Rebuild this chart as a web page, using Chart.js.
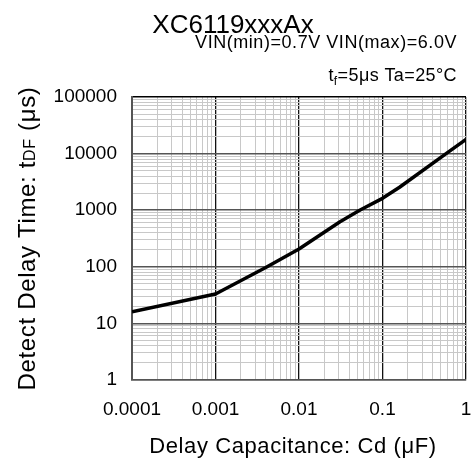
<!DOCTYPE html>
<html>
<head>
<meta charset="utf-8">
<script src="https://cdn.jsdelivr.net/npm/chart.js@4.4.0/dist/chart.umd.min.js"></script>
<style>
  html, body { margin: 0; padding: 0; background: #fff; }
  #wrap { width: 471px; height: 461px; }
</style>
</head>
<body>
<div id="wrap"><canvas id="c" width="471" height="461"></canvas></div>
<script>
// ---- data ----
const capacitance = [0.0001, 0.001, 0.004, 0.01, 0.031, 0.054, 0.1, 0.16, 0.6, 1];
const delayTime   = [16, 33, 97, 206, 627, 1009, 1620, 2540, 10400, 17800];
const xTickLabels = ['0.0001', '0.001', '0.01', '0.1', '1'];
const yTickLabels = ['1', '10', '100', '1000', '10000', '100000'];

const chartTitle = 'XC6119xxxAx';
const condLine1 = 'VIN(min)=0.7V VIN(max)=6.0V';
const condLine2 = [['t', 0], ['f', 1], ['=5μs Ta=25°C', 0]];
const yTitle = [['Detect Delay Time: t', 0], ['DF', 2], [' (μs)', 0]];
const xTitle = 'Delay Capacitance: Cd (μF)';

const FONT = '"Liberation Sans", Arial, sans-serif';

function isDecade(v) {
  const l = Math.log10(v);
  return Math.abs(l - Math.round(l)) < 1e-6;
}
function buildLogTicks(labels) {
  const decades = labels.map(Number);
  const ticks = [];
  for (let i = 0; i < decades.length - 1; i++) {
    for (let m = 1; m <= 9; m++) ticks.push({ value: m * decades[i] });
  }
  ticks.push({ value: decades[decades.length - 1] });
  return ticks;
}
function labelFor(labels, v) {
  const s = labels.find(t => Math.abs(Number(t) - v) < v * 1e-6);
  return s === undefined ? '' : s;
}

// draws a run of segments: [text, mode] ; mode 0 normal, 1 subscript, 2 small at baseline
function drawRun(ctx, segs, size, x, y, align, spacing) {
  const fontFor = m => (m === 0 ? size : Math.round(size * 0.68)) + 'px ' + FONT;
  ctx.letterSpacing = (spacing || 0) + 'px';
  let total = 0;
  segs.forEach(([t, m]) => { ctx.font = fontFor(m); total += ctx.measureText(t).width; });
  let cx = align === 'right' ? x - total : (align === 'center' ? x - total / 2 : x);
  segs.forEach(([t, m]) => {
    ctx.font = fontFor(m);
    const dy = m === 1 ? size * 0.2 : 0;
    ctx.fillText(t, cx, y + dy);
    cx += ctx.measureText(t).width;
  });
  ctx.letterSpacing = '0px';
}

const textPlugin = {
  id: 'texts',
  beforeDraw(chart) {
    const ctx = chart.ctx;
    ctx.save();
    ctx.fillStyle = '#fff';
    ctx.fillRect(0, 0, chart.width, chart.height);
    ctx.restore();
  },
  afterDraw(chart) {
    const ctx = chart.ctx;
    const a = chart.chartArea;
    ctx.save();
    ctx.fillStyle = '#000';
    ctx.textBaseline = 'alphabetic';
    // title
    drawRun(ctx, [[chartTitle, 0]], 26, 233, 33, 'center', 0);
    // condition lines
    drawRun(ctx, [[condLine1, 0]], 18, 457, 48, 'right', 0.55);
    drawRun(ctx, condLine2, 18, 457, 81, 'right', 0.4);
    // x axis title
    drawRun(ctx, [[xTitle, 0]], 22, 293, 453, 'center', 0.6);
    // y axis title
    ctx.translate(35, (a.top + a.bottom) / 2);
    ctx.rotate(-Math.PI / 2);
    drawRun(ctx, yTitle, 24, 0, 0, 'center', 0.65);
    ctx.restore();
  }
};

new Chart(document.getElementById('c'), {
  type: 'line',
  data: {
    datasets: [{
      data: capacitance.map((c, i) => ({ x: c, y: delayTime[i] })),
      borderColor: '#000',
      borderWidth: 3.5,
      borderJoinStyle: 'round',
      pointRadius: 0,
      tension: 0,
      fill: false
    }]
  },
  options: {
    responsive: false,
    animation: false,
    devicePixelRatio: 1,
    layout: { padding: { top: 97, right: 5, left: 0, bottom: 0 } },
    plugins: { legend: { display: false }, tooltip: { enabled: false }, title: { display: false } },
    scales: {
      x: {
        type: 'logarithmic',
        min: Number(xTickLabels[0]),
        max: Number(xTickLabels[xTickLabels.length - 1]),
        afterBuildTicks: s => { s.ticks = buildLogTicks(xTickLabels); },
        afterFit: s => { s.height = 81; s.paddingLeft = 0; s.paddingRight = 0; },
        ticks: {
          autoSkip: false, maxRotation: 0, minRotation: 0, padding: 18,
          color: '#000', font: { family: FONT, size: 19 },
          callback: v => labelFor(xTickLabels, v)
        },
        grid: {
          drawTicks: false,
          color: c => (c.tick && isDecade(c.tick.value)) ? '#111' : '#c8c8c8',
          lineWidth: c => (c.tick && isDecade(c.tick.value)) ? 1.3 : 1
        },
        border: { display: true, color: '#555', width: 1.5 }
      },
      y: {
        type: 'logarithmic',
        min: Number(yTickLabels[0]),
        max: Number(yTickLabels[yTickLabels.length - 1]),
        afterBuildTicks: s => { s.ticks = buildLogTicks(yTickLabels); },
        afterFit: s => { s.width = 132; s.paddingTop = 0; s.paddingBottom = 0; },
        ticks: {
          autoSkip: false, padding: 15,
          color: '#000', font: { family: FONT, size: 19 },
          callback: v => labelFor(yTickLabels, v)
        },
        grid: {
          drawTicks: false,
          color: c => {
            if (!c.tick) return '#c8c8c8';
            const v = c.tick.value;
            if (v === Number(yTickLabels[yTickLabels.length - 1])) return '#000';
            return isDecade(v) ? '#555' : '#c8c8c8';
          },
          lineWidth: c => (c.tick && isDecade(c.tick.value)) ? 1.5 : 1
        },
        border: { display: true, color: '#555', width: 2 }
      }
    }
  },
  plugins: [textPlugin]
});
</script>
</body>
</html>
